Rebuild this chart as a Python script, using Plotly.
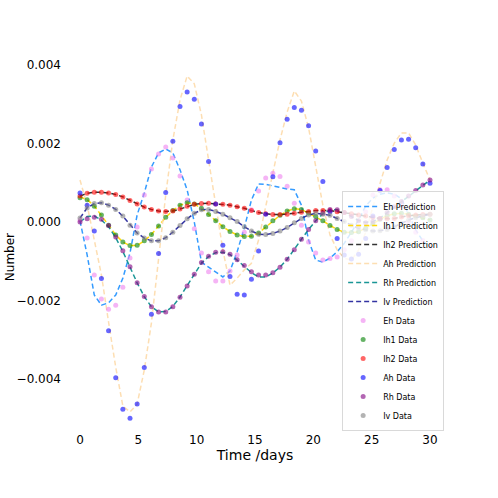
"""
Host/vector compartment fit - predictions vs. observed data.
"""

import numpy as np
import plotly.graph_objects as go

# sampling times (days), shared by predictions and data
TIME_DAYS = np.linspace(0, 30, 50)

# all series below are given in thousandths
SCALE = 1e-3

EH_PRED = [0.03, -0.84, -1.86, -2.12, -2.06, -1.86, -1.43, -0.79, 0.18, 0.74,
           1.40, 1.76, 1.86, 1.76, 1.33, 0.82, 0.00, -1.02, -1.15, -1.27,
           -1.40, -1.25, -0.76, -0.15, 0.56, 0.97, 0.96, 0.92, 0.88, 0.84,
           0.82, 0.43, -0.46, -0.97, -1.02, -0.92, -0.76, -0.54, -0.26, 0.05,
           0.41, 0.61, 0.71, 0.74, 0.71, 0.59, 0.20, -0.20, -0.48, -0.64]
EH_DATA = [0.05, -0.41, -1.35, -1.96, -2.22, -2.12, -1.66, -0.92, -0.13, 0.69,
           1.35, 1.73, 1.91, 1.63, 1.17, 0.56, -0.17, -0.79, -1.27, -1.50,
           -1.50, -1.25, -0.84, -0.26, 0.31, 0.79, 1.12, 1.24, 1.16, 0.91,
           0.48, -0.08, -0.51, -0.79, -0.97, -0.93, -0.89, -0.71, -0.48, -0.10,
           0.26, 0.69, 0.82, 0.82, 0.66, 0.43, 0.00, -0.26, -0.47, -0.65]

IH1_PRED = [0.64, 0.57, 0.41, 0.18, -0.08, -0.33, -0.51, -0.60, -0.60, -0.48,
            -0.32, -0.10, 0.12, 0.29, 0.43, 0.49, 0.46, 0.35, 0.19, 0.03,
            -0.12, -0.24, -0.33, -0.37, -0.36, -0.28, -0.13, 0.03, 0.17, 0.28,
            0.34, 0.32, 0.23, 0.14, 0.03, -0.09, -0.19, -0.26, -0.27, -0.25,
            -0.16, -0.05, 0.07, 0.16, 0.21, 0.22, 0.20, 0.15, 0.11, 0.05]
IH1_DATA = [0.62, 0.57, 0.40, 0.18, -0.08, -0.33, -0.51, -0.60, -0.59, -0.48,
            -0.32, -0.10, 0.12, 0.29, 0.43, 0.49, 0.46, 0.35, 0.19, 0.03,
            -0.12, -0.24, -0.33, -0.37, -0.36, -0.28, -0.13, 0.03, 0.17, 0.28,
            0.34, 0.32, 0.23, 0.14, 0.03, -0.09, -0.19, -0.26, -0.27, -0.25,
            -0.16, -0.05, 0.07, 0.16, 0.21, 0.22, 0.20, 0.15, 0.11, 0.05]

IH2_PRED = [0.66, 0.73, 0.76, 0.76, 0.74, 0.70, 0.64, 0.55, 0.46, 0.38,
            0.32, 0.28, 0.27, 0.28, 0.33, 0.40, 0.45, 0.47, 0.48, 0.46,
            0.45, 0.43, 0.39, 0.35, 0.29, 0.24, 0.21, 0.19, 0.19, 0.20,
            0.22, 0.25, 0.27, 0.29, 0.29, 0.29, 0.26, 0.24, 0.21, 0.18,
            0.15, 0.12, 0.09, 0.08, 0.09, 0.13, 0.16, 0.18, 0.19, 0.20]
IH2_DATA = [0.66, 0.73, 0.76, 0.76, 0.74, 0.70, 0.64, 0.55, 0.46, 0.38,
            0.32, 0.28, 0.27, 0.28, 0.33, 0.40, 0.45, 0.47, 0.48, 0.46,
            0.45, 0.43, 0.39, 0.35, 0.29, 0.24, 0.21, 0.19, 0.19, 0.20,
            0.22, 0.25, 0.27, 0.29, 0.29, 0.29, 0.26, 0.24, 0.21, 0.18,
            0.15, 0.12, 0.09, 0.08, 0.09, 0.13, 0.16, 0.18, 0.19, 0.20]

AH_PRED = [1.07, 0.43, -0.46, -1.35, -2.55, -3.70, -4.69, -4.84, -4.64, -3.77,
           -2.57, -0.92, 0.69, 2.09, 3.11, 3.72, 3.52, 2.73, 1.58, 0.43,
           -0.71, -1.61, -1.43, -1.22, -1.05, -0.46, 0.43, 1.25, 2.09, 2.80,
           3.34, 3.08, 2.40, 1.45, 0.43, -0.33, -0.71, -0.92, -0.97, -0.71,
           -0.26, 0.38, 0.99, 1.58, 2.01, 2.27, 2.27, 1.96, 1.50, 1.07]
AH_DATA = [0.74, 0.43, -0.23, -1.44, -2.77, -3.97, -4.77, -5.00, -4.64, -3.71,
           -2.35, -0.80, 0.75, 2.06, 2.94, 3.31, 3.13, 2.50, 1.54, 0.46,
           -0.59, -1.39, -1.84, -1.86, -1.46, -0.74, 0.20, 1.15, 2.02, 2.62,
           2.92, 2.85, 2.45, 1.81, 1.03, 0.26, -0.42, -0.84, -0.94, -0.82,
           -0.42, 0.15, 0.80, 1.39, 1.85, 2.09, 2.11, 1.89, 1.48, 0.99]

RH_PRED = [0.00, 0.14, 0.15, 0.05, -0.12, -0.40, -0.75, -1.15, -1.55, -1.90,
           -2.16, -2.29, -2.28, -2.15, -1.91, -1.62, -1.32, -1.05, -0.88, -0.78,
           -0.77, -0.83, -0.97, -1.13, -1.29, -1.40, -1.40, -1.30, -1.15, -0.95,
           -0.71, -0.44, -0.19, 0.03, 0.21, 0.31, 0.31, 0.24, 0.14, 0.04,
           -0.01, 0.01, 0.10, 0.24, 0.39, 0.52, 0.66, 0.80, 0.94, 1.07]
RH_DATA = [0.00, 0.08, 0.12, 0.07, -0.09, -0.38, -0.73, -1.14, -1.55, -1.90,
           -2.16, -2.29, -2.29, -2.16, -1.92, -1.63, -1.33, -1.03, -0.87, -0.77,
           -0.76, -0.82, -0.96, -1.11, -1.27, -1.35, -1.35, -1.29, -1.15, -0.95,
           -0.71, -0.44, -0.19, 0.03, 0.22, 0.32, 0.31, 0.24, 0.14, 0.03,
           -0.02, 0.01, 0.09, 0.24, 0.39, 0.52, 0.66, 0.80, 0.94, 1.07]

IV_PRED = [0.10, 0.36, 0.47, 0.49, 0.43, 0.32, 0.15, -0.08, -0.28, -0.41,
           -0.48, -0.48, -0.40, -0.26, -0.09, 0.08, 0.22, 0.31, 0.32, 0.27,
           0.20, 0.11, 0.01, -0.12, -0.23, -0.31, -0.32, -0.29, -0.23, -0.14,
           -0.02, 0.09, 0.18, 0.22, 0.20, 0.17, 0.09, 0.01, -0.08, -0.16,
           -0.20, -0.23, -0.22, -0.19, -0.12, -0.03, 0.05, 0.11, 0.16, 0.20]
IV_DATA = [0.10, 0.36, 0.47, 0.49, 0.43, 0.32, 0.15, -0.08, -0.28, -0.41,
           -0.48, -0.48, -0.40, -0.26, -0.09, 0.08, 0.22, 0.31, 0.32, 0.27,
           0.20, 0.11, 0.01, -0.12, -0.23, -0.31, -0.32, -0.29, -0.23, -0.14,
           -0.02, 0.09, 0.18, 0.22, 0.20, 0.17, 0.09, 0.01, -0.08, -0.16,
           -0.20, -0.23, -0.22, -0.19, -0.12, -0.03, 0.05, 0.11, 0.16, 0.20]

COMPARTMENTS = ["Eh", "Ih1", "Ih2", "Ah", "Rh", "Iv"]
PREDICTIONS = [EH_PRED, IH1_PRED, IH2_PRED, AH_PRED, RH_PRED, IV_PRED]
OBSERVED = [EH_DATA, IH1_DATA, IH2_DATA, AH_DATA, RH_DATA, IV_DATA]

LINE_COLORS = ["rgba(30,144,255,0.9)", "rgba(255,215,0,0.95)", "rgba(0,0,0,0.8)",
               "rgba(253,218,170,0.9)", "rgba(0,139,139,0.9)", "rgba(0,0,139,0.8)"]
DOT_COLORS = ["rgba(238,130,238,0.6)", "rgba(0,128,0,0.6)", "rgba(255,0,0,0.6)",
              "rgba(0,0,255,0.6)", "rgba(128,0,128,0.6)", "rgba(128,128,128,0.6)"]


def prediction_trace(name, values, color):
    """Dashed line for a model prediction."""
    return go.Scatter(
        x=TIME_DAYS,
        y=np.array(values) * SCALE,
        mode="lines",
        name=f"{name} Prediction",
        line=dict(color=color, width=1.5, dash="5px,3px"),
    )


def data_trace(name, values, color):
    """Scatter dots for the observed values."""
    return go.Scatter(
        x=TIME_DAYS,
        y=np.array(values) * SCALE,
        mode="markers",
        name=f"{name} Data",
        marker=dict(color=color, size=5, line=dict(width=0)),
    )


fig = go.Figure()
for name, vals, col in zip(COMPARTMENTS, PREDICTIONS, LINE_COLORS):
    fig.add_trace(prediction_trace(name, vals, col))
for name, vals, col in zip(COMPARTMENTS, OBSERVED, DOT_COLORS):
    fig.add_trace(data_trace(name, vals, col))

fig.update_layout(
    width=498,
    height=498,
    margin=dict(l=62, r=50, t=45, b=67),
    paper_bgcolor="white",
    plot_bgcolor="white",
    font=dict(family="DejaVu Sans", size=12, color="black"),
    legend=dict(
        x=0.99, y=0.0, xanchor="right", yanchor="bottom",
        font=dict(size=8),
        bgcolor="rgba(255,255,255,0.8)",
        bordercolor="#d9d9d9",
        borderwidth=1,
        tracegroupgap=0,
        itemwidth=30,
    ),
    annotations=[dict(
        text="Number", textangle=-90,
        xref="paper", yref="paper", x=-0.135, y=0.45,
        xanchor="center", yanchor="middle",
        showarrow=False, font=dict(size=12),
    )],
)
fig.update_xaxes(
    range=[-1.543, 31.543],
    tickvals=[0, 5, 10, 15, 20, 25, 30],
    showgrid=False, zeroline=False, showline=False, ticks="",
    title=dict(text="Time /days", standoff=2),
)
fig.update_yaxes(
    range=[-0.005325, 0.00451],
    tickvals=[-0.004, -0.002, 0, 0.002, 0.004],
    tickformat=".3f",
    showgrid=False, zeroline=False, showline=False, ticks="",
)

# drop the default 8px page margin so the figure sits at the window corner
fig.write_html(
    "out.html",
    config={"displayModeBar": False},
    post_script="document.body.style.margin='0';",
)
